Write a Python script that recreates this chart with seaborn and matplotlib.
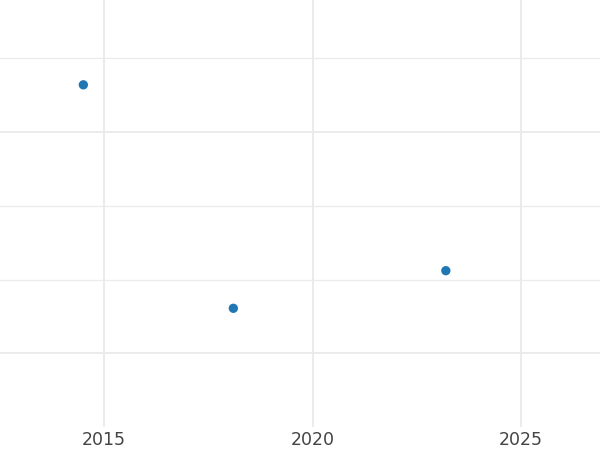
import numpy as np
import pandas as pd
import matplotlib as mpl
mpl.use("Agg")
import matplotlib.pyplot as plt
import seaborn as sns

# data (y axis carries no labels)
years = [2014.5, 2018.1, 2023.2]
values = [4.64, 1.61, 2.12]
x_ticks = [2015, 2020, 2025]
y_major = [1, 4]
y_minor = [2, 3, 5]

df = pd.DataFrame({"year": years, "value": values})

sns.set_style("white")
fig = plt.figure(figsize=(6, 4.5), dpi=100)
ax = fig.add_axes([0, 0.051, 1, 0.949])

sns.scatterplot(data=df, x="year", y="value", ax=ax, s=45,
                color="#1f77b4", edgecolor="none", zorder=3)

ax.set_xlim(2012.5, 2026.9)
ax.set_ylim(0, 5.79)
ax.set_xticks(x_ticks)
ax.set_xticklabels([str(t) for t in x_ticks])
ax.set_yticks(y_major)
ax.set_yticks(y_minor, minor=True)
ax.set_yticklabels([])
ax.tick_params(axis="both", which="both", length=0)
ax.tick_params(axis="x", labelsize=12.5, labelcolor="#444444", pad=3)

ax.grid(True, which="major", color="#ebebeb", linewidth=1.4)
ax.grid(True, which="minor", axis="y", color="#ebebeb", linewidth=0.9)
ax.set_axisbelow(True)
ax.set_xlabel("")
ax.set_ylabel("")
for sp in ax.spines.values():
    sp.set_visible(False)

fig.savefig("out.png", dpi=100)
